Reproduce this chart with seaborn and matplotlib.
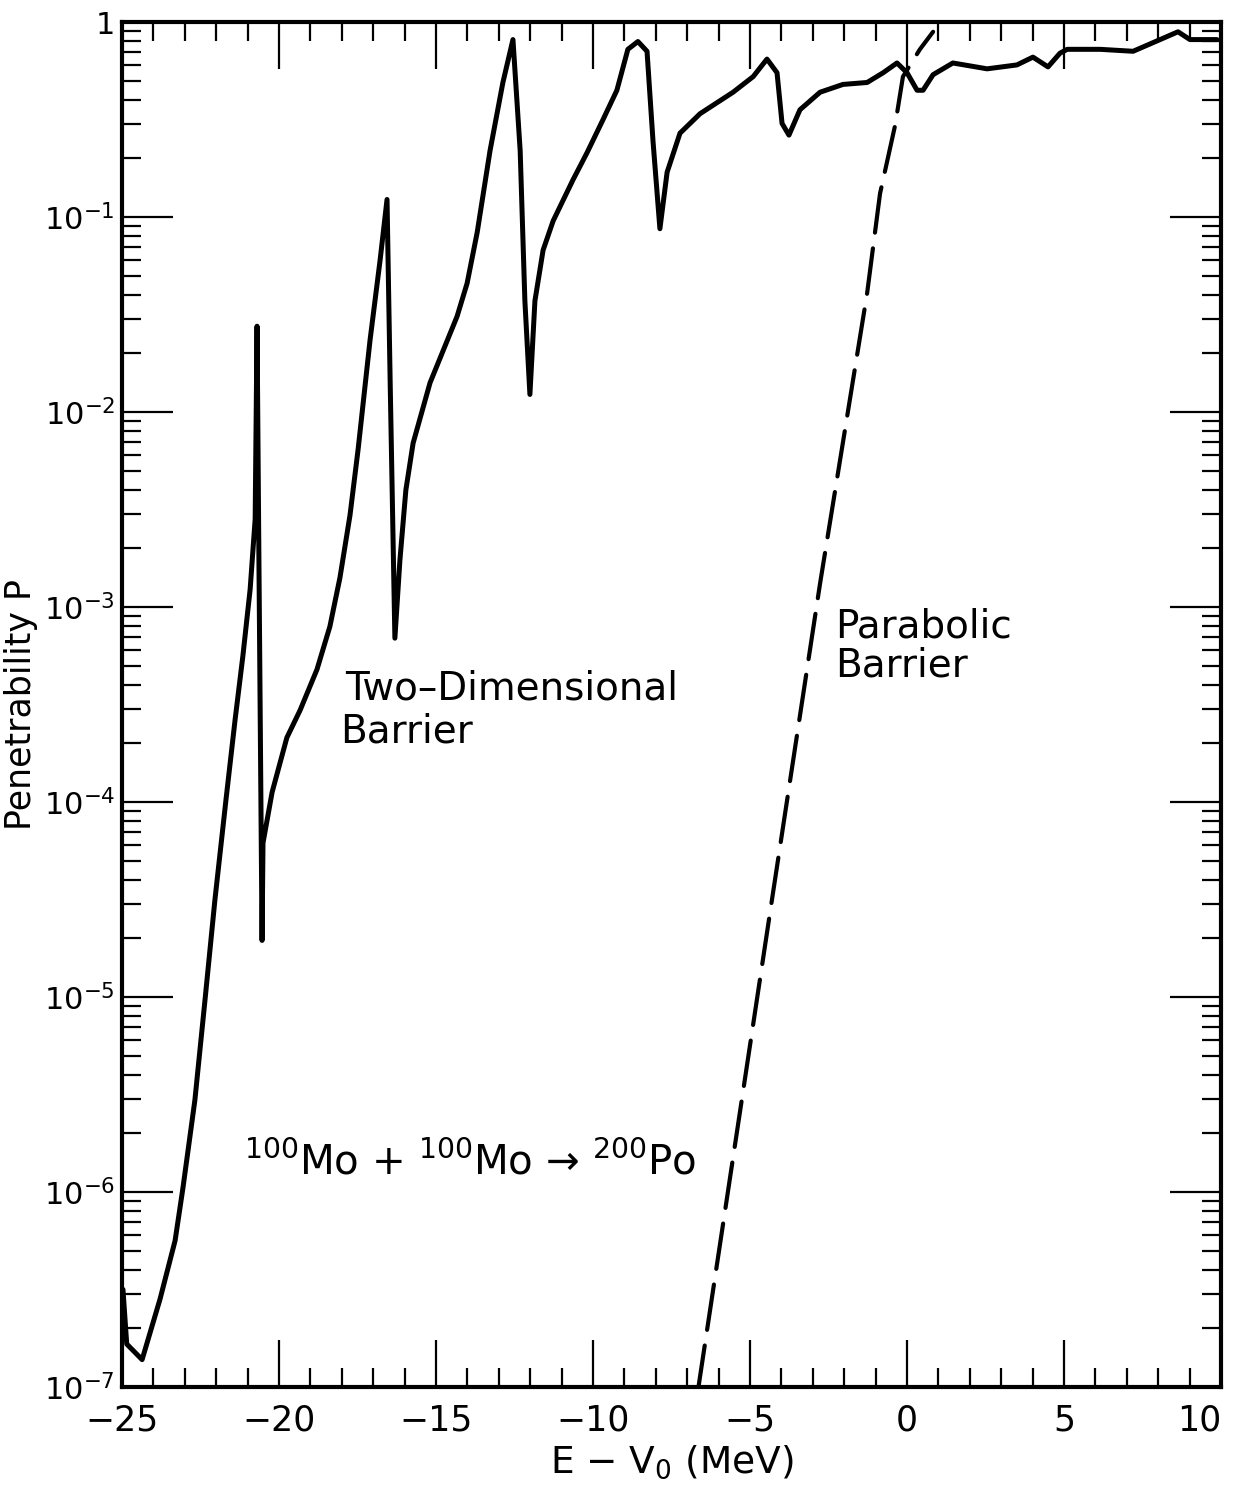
import numpy as np
import pandas as pd
import matplotlib
matplotlib.use("Agg")
import matplotlib.pyplot as plt
from matplotlib.ticker import FixedLocator, MultipleLocator, LogLocator, NullFormatter
import seaborn as sns

# ---------------- data ----------------
two_d_E = [-24.97, -24.85, -24.36, -23.79, -23.31, -23.06, -22.68, -22.36, -22.04, -21.69,
           -21.40, -21.15, -20.92, -20.76, -20.70, -20.64, -20.54, -20.51, -20.22, -19.75,
           -19.33, -18.79, -18.38, -18.06, -17.74, -17.48, -17.10, -16.78, -16.56, -16.46,
           -16.31, -16.15, -15.96, -15.73, -15.19, -14.33, -14.01, -13.69, -13.28, -12.87,
           -12.55, -12.32, -12.17, -12.01, -11.85, -11.59, -11.27, -10.64, -10.19, -9.68,
           -9.24, -8.89, -8.57, -8.28, -8.09, -7.87, -7.64, -7.23, -6.59, -5.54,
           -4.90, -4.46, -4.14, -3.98, -3.76, -3.41, -2.77, -2.04, -1.27, -0.76,
           -0.32, 0.00, 0.32, 0.51, 0.83, 1.46, 2.55, 3.50, 4.01, 4.49,
           4.87, 5.10, 6.15, 7.20, 8.06, 8.63, 9.01, 9.87]
two_d_log10P = [-6.50, -6.78, -6.86, -6.55, -6.25, -5.98, -5.53, -5.02, -4.50, -3.99,
                -3.58, -3.25, -2.91, -2.55, -1.56, -2.76, -4.71, -4.21, -3.95, -3.67,
                -3.53, -3.32, -3.10, -2.85, -2.53, -2.19, -1.63, -1.22, -0.91, -1.85,
                -3.16, -2.76, -2.40, -2.16, -1.85, -1.51, -1.34, -1.08, -0.66, -0.31,
                -0.09, -0.66, -1.43, -1.91, -1.43, -1.17, -1.02, -0.81, -0.67, -0.50,
                -0.35, -0.14, -0.10, -0.15, -0.61, -1.06, -0.77, -0.57, -0.47, -0.36,
                -0.28, -0.19, -0.26, -0.52, -0.58, -0.45, -0.36, -0.32, -0.31, -0.26,
                -0.21, -0.26, -0.35, -0.35, -0.27, -0.21, -0.24, -0.22, -0.18, -0.23,
                -0.16, -0.14, -0.14, -0.15, -0.09, -0.05, -0.09, -0.09]

parab_E = [-6.66, -5.48, -4.30, -2.77, -1.27, -0.86, -0.38, -0.13, 0.41, 0.83]
parab_log10P = [-7.02, -5.76, -4.50, -2.88, -1.39, -0.88, -0.53, -0.28, -0.14, -0.05]

x_major = [-25, -20, -15, -10, -5, 0, 5, 10]
x_labels = ["\u221225", "\u221220", "\u221215", "\u221210", "\u22125", "0", "5", "10"]
y_major = [1e-7, 1e-6, 1e-5, 1e-4, 1e-3, 1e-2, 1e-1, 1]
y_labels = ["$10^{-7}$", "$10^{-6}$", "$10^{-5}$", "$10^{-4}$", "$10^{-3}$",
            "$10^{-2}$", "$10^{-1}$", "1"]

# ---------------- figure ----------------
sns.set_theme(style="ticks")
plt.rcParams['font.family'] = ['DejaVu Sans']
plt.rcParams['mathtext.fontset'] = 'dejavusans'
for k in ['text.color', 'axes.labelcolor', 'xtick.color', 'ytick.color', 'axes.edgecolor']:
    plt.rcParams[k] = 'black'

fig = plt.figure(figsize=(12.4, 15.09), dpi=100)
ax = fig.add_axes([0.0984, 0.0809, 0.8863, 0.9045])

df2 = pd.DataFrame({"E": two_d_E, "P": 10.0 ** np.array(two_d_log10P)})
dfp = pd.DataFrame({"E": parab_E, "P": 10.0 ** np.array(parab_log10P)})

sns.lineplot(data=df2, x="E", y="P", ax=ax, color="black", lw=3.6,
             sort=False, estimator=None)
sns.lineplot(data=dfp, x="E", y="P", ax=ax, color="black", lw=3.0,
             sort=False, estimator=None, dashes=False)
ax.lines[-1].set_dashes((11, 3.8))
for ln in ax.lines:
    ln.set_solid_joinstyle("round")
    ln.set_dash_capstyle("round")

ax.set_yscale("log")
ax.set_xlim(-25, 10)
ax.set_ylim(1e-7, 1)

ax.xaxis.set_major_locator(FixedLocator(x_major))
ax.set_xticklabels(x_labels)
ax.get_xticklabels()[-1].set_horizontalalignment("right")
ax.xaxis.set_minor_locator(MultipleLocator(1))
ax.yaxis.set_major_locator(FixedLocator(y_major))
ax.set_yticklabels(y_labels)
ax.yaxis.set_minor_locator(LogLocator(base=10, subs=np.arange(2, 10), numticks=20))
ax.yaxis.set_minor_formatter(NullFormatter())

ax.tick_params(which="both", direction="in", top=True, right=True, color="black")
ax.tick_params(which="major", axis="x", length=34, width=1.6, labelsize=25, pad=12)
ax.tick_params(which="minor", axis="x", length=14, width=1.6)
ax.tick_params(which="major", axis="y", length=37, width=1.6, labelsize=22, pad=5)
ax.tick_params(which="minor", axis="y", length=14, width=1.6)

for s in ax.spines.values():
    s.set_linewidth(3.0)
    s.set_color("black")

ax.set_xlabel("E \u2212 V$_0$ (MeV)", fontsize=27, labelpad=4)
ax.set_ylabel("Penetrability P", fontsize=25)
ax.yaxis.set_label_coords(-0.076, 0.5)

ax.text(-17.9, 3.8e-4, "Two\u2013Dimensional", fontsize=28, ha="left", va="center")
ax.text(-18.06, 2.3e-4, "Barrier", fontsize=28, ha="left", va="center")
ax.text(-2.29, 7.9e-4, "Parabolic", fontsize=28, ha="left", va="center")
ax.text(-2.29, 5.0e-4, "Barrier", fontsize=28, ha="left", va="center")
ax.text(-21.1, 1.4e-6, "$^{100}$Mo + $^{100}$Mo \u2192 $^{200}$Po",
        fontsize=29, ha="left", va="center")

fig.savefig("out.png", dpi=100)
